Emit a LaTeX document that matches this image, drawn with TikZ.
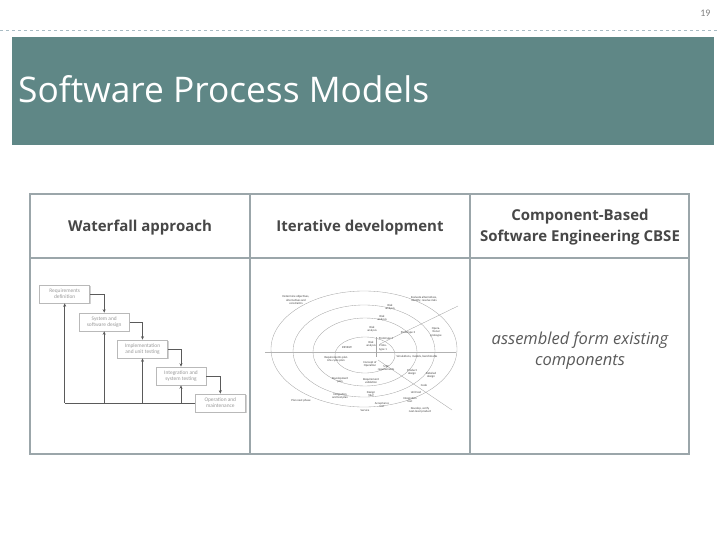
\documentclass[tikz,border=0pt]{standalone}
\usepackage{fontspec}
\setmainfont{Open Sans}
\newfontfamily\smallfont{Carlito}
\usepackage{tikz}
\usetikzlibrary{positioning, shadows, arrows.meta, calc}
\definecolor{myteal}{HTML}{5F8786}
\definecolor{mygrid}{HTML}{9BA6AA}
\definecolor{mydash}{HTML}{A9BCC4}
\definecolor{myhead}{HTML}{474747}
\definecolor{mybody}{HTML}{5A5A5A}
\definecolor{myline}{HTML}{5A5A5A}
\tikzset{
	headnode/.style={
			align=center,
			text=myhead,
			font=\fontsize{15}{21}\selectfont\bfseries,
			inner sep=0pt
		},
	wfnode/.style={
			draw=gray!55,
			fill=white,
			line width=0.6pt,
			minimum width=50pt,
			minimum height=18pt,
			inner sep=0pt,
			align=center,
			text=gray!80,
			font=\smallfont\fontsize{5.4}{6.2}\selectfont,
			drop shadow={shadow xshift=1.2pt, shadow yshift=-1.2pt, fill=gray!35, opacity=1}
		},
	wfline/.style={
			draw=myline,
			line width=0.8pt
		},
	wfarrow/.style={
			wfline,
			-{Stealth[length=3.5pt, width=3pt]}
		},
	spnode/.style={
			align=center,
			inner sep=0pt,
			text=black!75,
			font=\smallfont\fontsize{3}{3.5}\selectfont
		},
	spring/.style={
			draw=gray!70,
			line width=0.35pt
		}
}

\begin{document}
\begin{tikzpicture}[x=1pt, y=-1pt]
\useasboundingbox (0,0) rectangle (720,540);

% slide header
\node[anchor=base east, text=gray, font=\smallfont\fontsize{10}{12}\selectfont] (pg) at (714,17) {19};
\draw[mydash, dashed, line width=0.6pt] (0,30) -- (720,30);
\fill[myteal] (12,37) rectangle (714,145);
\node[anchor=base west, text=white, font=\fontsize{35.3}{40}\selectfont, inner sep=0pt] (title) at (18,103) {Software Process Models};

% table
\draw[mygrid, line width=1.6pt] (30,194) rectangle (689,454);
\draw[mygrid, line width=1.6pt] (30,258) -- (689,258);
\draw[mygrid, line width=1.6pt] (250,194) -- (250,454);
\draw[mygrid, line width=1.6pt] (470,194) -- (470,454);

\node[headnode] (h1) at (140,227.5) {Waterfall approach};
\node[headnode] (h2) at (360,227.5) {Iterative development};
\node[headnode] (h3) at (580,227.5) {Component-Based\\Software Engineering CBSE};

\node[align=center, text=mybody, inner sep=0pt, font=\fontsize{16.5}{21}\selectfont\itshape] (c3) at (580,351) {assembled form existing\\components};

% waterfall
\node[wfnode] (w1) at (64.7,294) {Requirements\\definition};
\node[wfnode] (w2) at (104.2,322) {System and\\software design};
\node[wfnode] (w3) at (142.5,349) {Implementation\\and unit testing};
\node[wfnode] (w4) at (181,376) {Integration and\\system testing};
\node[wfnode] (w5) at (220.3,403) {Operation and\\maintenance};

\draw[wfarrow] (w1.east) -| (w2.north);
\draw[wfarrow] (w2.east) -| (w3.north);
\draw[wfarrow] (w3.east) -| (w4.north);
\draw[wfarrow] (w4.east) -| (w5.north);

\draw[wfline] (w5.west) -- (w1 |- w5.west);
\draw[wfarrow] (w1 |- w5.west) -- (w1.south);
\draw[wfarrow] (w2 |- w5.west) -- (w2.south);
\draw[wfarrow] (w3 |- w5.west) -- (w3.south);
\draw[wfarrow] (w4 |- w5.west) -- (w4.south);

% spiral
\draw[spring] (364,349) ellipse [x radius=93, y radius=58];
\draw[spring] (364,351) ellipse [x radius=71, y radius=46];
\draw[spring] (365,352) ellipse [x radius=52, y radius=34];
\draw[spring] (365,355) ellipse [x radius=30, y radius=18];
\draw[gray!60, line width=1pt] (265,352) -- (456,352);
\draw[spring] (376,337) -- (376,357);
\draw[spring] (380,344) -- (458,306);
\draw[spring] (378,360) -- (452,410);

\node[spnode] (s1) at (296,300) {Determine objectives,\\alternatives and\\constraints};
\node[spnode] (s2) at (424,299) {Evaluate alternatives,\\identify, resolve risks};
\node[spnode] (s3) at (390,307) {Risk\\analysis};
\node[spnode] (s4) at (382,318) {Risk\\analysis};
\node[spnode] (s5) at (372,329) {Risk\\analysis};
\node[spnode] (s6) at (371,344) {Risk\\analysis};
\node[spnode] (s7) at (383,348) {Proto-\\type 1};
\node[spnode] (s8) at (386,339) {Prototype 2};
\node[spnode] (s9) at (408,333) {Prototype 3};
\node[spnode] (s10) at (436,332) {Opera-\\tional\\protoype};
\node[spnode] (s11) at (347,348) {REVIEW};
\node[spnode] (s12) at (336,359) {Requirements plan\\Life-cycle plan};
\node[spnode] (s13) at (370,364) {Concept of\\Operation};
\node[spnode] (s14) at (417,357) {Simulations, models, benchmarks};
\node[spnode] (s15) at (386,368) {S/W\\requirements};
\node[spnode] (s16) at (340,380) {Development\\plan};
\node[spnode] (s17) at (371,381) {Requirement\\validation};
\node[spnode] (s18) at (412,372) {Product\\design};
\node[spnode] (s19) at (431,375) {Detailed\\design};
\node[spnode] (s20) at (424,385) {Code};
\node[spnode] (s21) at (340,396) {Integration\\and test plan};
\node[spnode] (s22) at (371,394) {Design\\V\&V};
\node[spnode] (s23) at (416,392) {Unit test};
\node[spnode] (s24) at (410,400) {Integration\\test};
\node[spnode] (s25) at (382,405) {Acceptance\\test};
\node[spnode] (s26) at (301,401) {Plan next phase};
\node[spnode] (s27) at (365,410) {Service};
\node[spnode] (s28) at (420,410) {Develop, verify\\next-level product};

\end{tikzpicture}
\end{document}
